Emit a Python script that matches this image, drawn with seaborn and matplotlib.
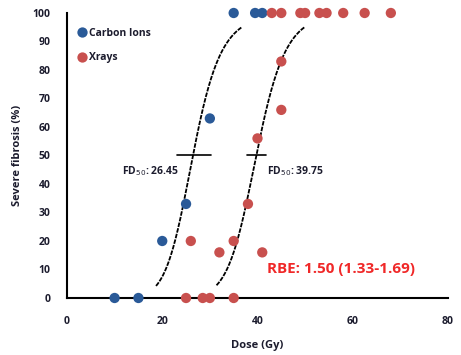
import numpy as np
import pandas as pd
import matplotlib
matplotlib.use("Agg")
import matplotlib.pyplot as plt
import seaborn as sns

# Observed incidence of severe fibrosis per dose group
carbon_dose = [10, 15, 20, 25, 30, 35, 39.5, 41]
carbon_fib = [0, 0, 20, 33, 63, 100, 100, 100]

xray_dose = [25, 28.5, 30, 35, 26, 32, 35, 41, 38, 40, 45, 45,
             43, 45, 49, 50, 53, 54.5, 58, 62.5, 68]
xray_fib = [0, 0, 0, 0, 20, 16, 20, 16, 33, 56, 66, 83,
            100, 100, 100, 100, 100, 100, 100, 100, 100]

# Fitted dose-response (log-logistic) parameters
carbon_fd50, carbon_hill = 26.45, 9.0
xray_fd50, xray_hill = 39.75, 13.0
carbon_ci = [23.0, 30.3]
xray_ci = [37.7, 41.7]
carbon_range = [18.7, 36.6]
xray_range = [31.4, 49.9]

blue = "#2A5A98"
red = "#C8504E"
txt = "#1c1c2e"

sns.set_theme(style="white")
plt.rcParams["font.family"] = ["Open Sans", "DejaVu Sans"]

pts = pd.DataFrame({
    "dose": carbon_dose + xray_dose,
    "fib": carbon_fib + xray_fib,
    "group": ["Carbon Ions"] * len(carbon_dose) + ["Xrays"] * len(xray_dose),
})


def fit_curve(fd50, hill, rng, label):
    d = np.linspace(rng[0], rng[1], 200)
    y = 100.0 / (1.0 + (d / fd50) ** (-hill))
    return pd.DataFrame({"dose": d, "fib": y, "group": label})


curves = pd.concat([
    fit_curve(carbon_fd50, carbon_hill, carbon_range, "Carbon Ions"),
    fit_curve(xray_fd50, xray_hill, xray_range, "Xrays"),
])

fig = plt.figure(figsize=(4.61, 3.55), dpi=100)
ax = fig.add_axes([0.1453, 0.1606, 0.8265, 0.8028])

for g, sub in curves.groupby("group"):
    sns.lineplot(data=sub, x="dose", y="fib", ax=ax, color="black",
                 linewidth=1.3, linestyle=(0, (2.5, 0.7)), legend=False,
                 sort=False)

# FD50 confidence bars
ax.plot(carbon_ci, [50, 50], color="black", lw=1.2)
ax.plot(xray_ci, [50, 50], color="black", lw=1.2)

sns.scatterplot(data=pts, x="dose", y="fib", hue="group",
                palette={"Carbon Ions": blue, "Xrays": red},
                s=55, edgecolor="none", ax=ax, clip_on=False, zorder=3)

ax.set_xlim(0, 80)
ax.set_ylim(0, 100)
ax.set_xticks([0, 20, 40, 60, 80])
ax.set_yticks(range(0, 101, 10))
ax.tick_params(axis="both", length=0, labelsize=7.5, colors=txt)
for lab in ax.get_xticklabels() + ax.get_yticklabels():
    lab.set_fontweight("bold")
ax.tick_params(axis="y", pad=12)
ax.tick_params(axis="x", pad=13)

for side in ["top", "right"]:
    ax.spines[side].set_visible(False)
for side in ["left", "bottom"]:
    ax.spines[side].set_color("black")
    ax.spines[side].set_linewidth(1.5)

ax.set_xlabel("Dose (Gy)", fontsize=8, fontweight="bold", color=txt, labelpad=9)
ax.set_ylabel("Severe fibrosis (%)", fontsize=8, fontweight="bold", color=txt,
              labelpad=7)

ax.text(23.5, 47, r"FD$_{50}$: " + f"{carbon_fd50:.2f}",
        ha="right", va="top", fontsize=7.5, fontweight="bold", color=txt)
ax.text(42.0, 47, r"FD$_{50}$: " + f"{xray_fd50:.2f}",
        ha="left", va="top", fontsize=7.5, fontweight="bold", color=txt)

ax.text(42.0, 10, "RBE: 1.50 (1.33-1.69)", ha="left", va="center",
        fontsize=11, fontweight="bold", color="#F02828")

leg = ax.legend(loc="upper left", bbox_to_anchor=(0.01, 0.97), frameon=False,
                fontsize=7.5, handletextpad=0.1, labelspacing=1.3,
                borderaxespad=0.2, markerscale=1.0, handlelength=1.0)
for t in leg.get_texts():
    t.set_fontweight("bold")
    t.set_color(txt)

fig.savefig("out.png", dpi=100)
